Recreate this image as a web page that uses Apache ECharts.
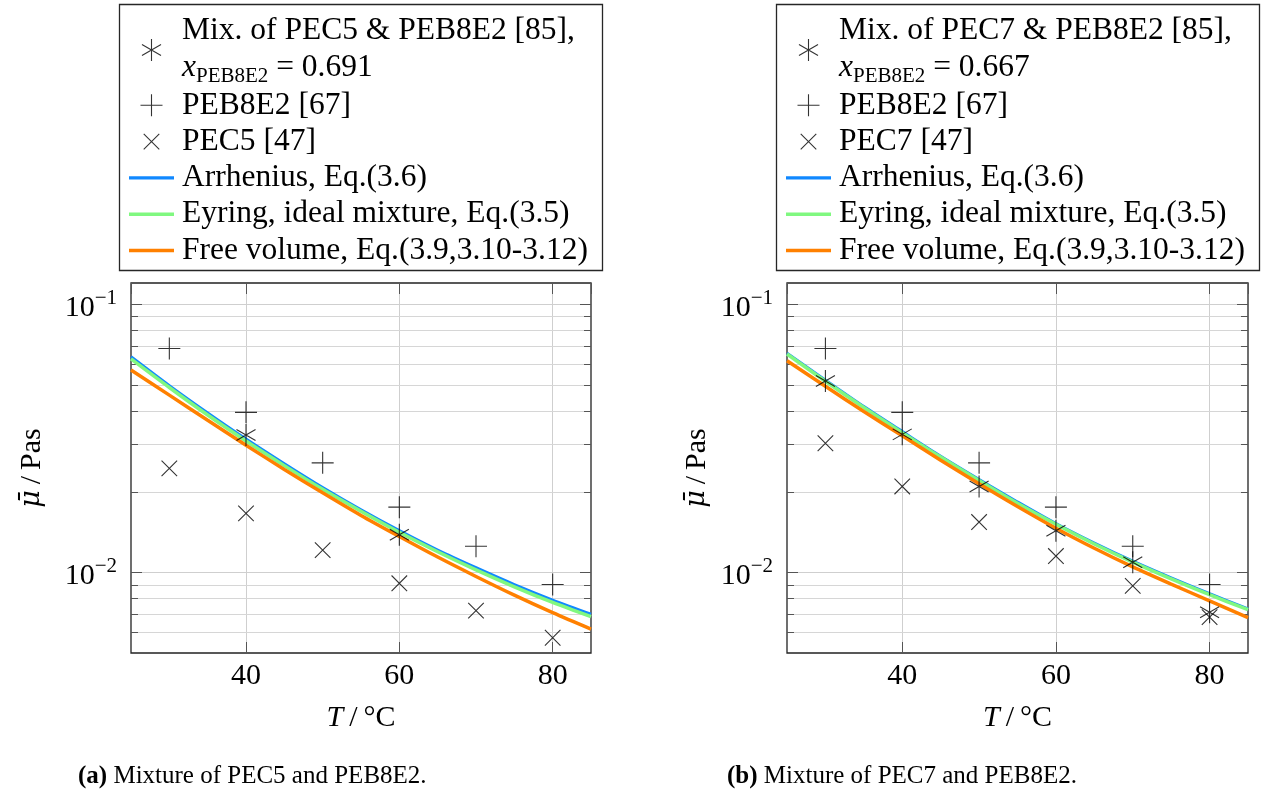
<!DOCTYPE html>
<html>
<head>
<meta charset="utf-8">
<script src="https://cdn.jsdelivr.net/npm/echarts@6/dist/echarts.min.js"></script>
<style>
  html, body { margin: 0; padding: 0; background: #fff; }
  #chart { width: 1261px; height: 800px; }
</style>
</head>
<body>
<div id="chart"></div>
<script>
// ---- measured data (temperature in °C, viscosity in Pa s) ----
const temps = [30, 40, 50, 60, 70, 80];
const peb8e2 = [0.0684, 0.0395, 0.0256, 0.0175, 0.0125, 0.0090];
const pec5 = [0.0244, 0.0166, 0.0121, 0.0091, 0.0072, 0.0057];
const pec7 = [0.0303, 0.0209, 0.0154, 0.0115, 0.0089, 0.0068];
const mixATemps = [40, 60];
const mixA = [0.0325, 0.0138];
const mixB = [0.0517, 0.0327, 0.0209, 0.0143, 0.0109, 0.0071];

// ---- model curves ----
const curveT = [25, 30, 35, 40, 45, 50, 55, 60, 65, 70, 75, 80, 85];
const arrhA = [0.0637, 0.0497, 0.0393, 0.0314, 0.0254, 0.0207, 0.0171, 0.0143, 0.0121, 0.0104, 0.0090, 0.00788, 0.00698];
const eyrA  = [0.0625, 0.0489, 0.0386, 0.0309, 0.0250, 0.0204, 0.0169, 0.0141, 0.01193, 0.01021, 0.00883, 0.00772, 0.00683];
const fvA   = [0.0568, 0.0458, 0.0369, 0.0298, 0.0242, 0.0198, 0.0163, 0.0136, 0.0114, 0.00965, 0.00822, 0.00707, 0.00614];
const arrhB = [0.0657, 0.0521, 0.0415, 0.0335, 0.0271, 0.0222, 0.0183, 0.0152, 0.01285, 0.0110, 0.00953, 0.00832, 0.00731];
const eyrB  = [0.0652, 0.0516, 0.0412, 0.0332, 0.0269, 0.0220, 0.0181, 0.0151, 0.01275, 0.01091, 0.00945, 0.00825, 0.00725];
const fvB   = [0.0615, 0.0494, 0.0398, 0.0323, 0.0262, 0.0214, 0.0176, 0.0146, 0.01229, 0.01047, 0.00903, 0.00783, 0.00677];

// ---- axes ----
const xRange = [25, 85];
const yRange = [0.005, 0.12];
const xTickLabels = [40, 60, 80];
const minorYValues = [0.006, 0.007, 0.008, 0.009, 0.02, 0.03, 0.04, 0.05, 0.06, 0.07, 0.08, 0.09];

// ---- legend names ----
const NAME_MIX_A = 'Mix. of PEC5 & PEB8E2 [85]';
const NAME_MIX_B = 'Mix. of PEC7 & PEB8E2 [85]';
const NAME_PEB = 'PEB8E2 [67]';
const NAME_PEC5 = 'PEC5 [47]';
const NAME_PEC7 = 'PEC7 [47]';
const NAME_ARR = 'Arrhenius, Eq.(3.6)';
const NAME_EYR = 'Eyring, ideal mixture, Eq.(3.5)';
const NAME_FV = 'Free volume, Eq.(3.9,3.10-3.12)';
const mixFraction = { [NAME_MIX_A]: '0.691', [NAME_MIX_B]: '0.667' };

const FONT = '"Liberation Serif", "DejaVu Serif", serif';
const BLUE = '#1088ff', GREEN = '#80f880', ORANGE = '#ff8000';

// stroked marker shapes, all in a common [-1,1] frame
const SYM_PLUS = 'path://M-1,-1M1,1M0,-1L0,1M-1,0L1,0';
const SYM_CROSS = 'path://M-1,-1M1,1M-0.7071,-0.7071L0.7071,0.7071M-0.7071,0.7071L0.7071,-0.7071';
const SYM_STAR = 'path://M-1,-1M1,1M0,-1L0,1M-0.866,-0.5L0.866,0.5M-0.866,0.5L0.866,-0.5';
// legend swatch for the model curves
const SYM_BAR = 'path://M0,0L45,0L45,3.4L0,3.4Z';

const pairs = (xs, ys) => xs.map((x, i) => [x, ys[i]]);

function yLabel(v) {
  const e = Math.log10(v);
  const r = Math.round(e);
  if (Math.abs(e - r) > 1e-6) return '';
  return '{b|10}{e|\u2212' + (-r) + '}';
}
function xLabel(v) {
  return xTickLabels.indexOf(v) >= 0 ? String(v) : '';
}

function xAxes(gi) {
  return [{
    type: 'value', gridIndex: gi, min: xRange[0], max: xRange[1], splitNumber: 3, position: 'bottom',
    axisLine: { show: false },
    axisTick: { show: true, inside: true, length: 11, lineStyle: { color: '#555', width: 1 } },
    splitLine: { show: true, showMinLine: false, showMaxLine: false, lineStyle: { color: '#cfcfcf', width: 1 } },
    axisLabel: { show: true, formatter: xLabel, showMinLabel: false, showMaxLabel: false, margin: 8,
      color: '#000', fontFamily: FONT, fontSize: 30 },
    name: '{i|T}{t|\u2009/\u2009°C}', nameLocation: 'middle', nameGap: 47,
    nameTextStyle: { rich: {
      i: { fontFamily: FONT, fontSize: 30, fontStyle: 'italic', color: '#000', lineHeight: 36 },
      t: { fontFamily: FONT, fontSize: 30, color: '#000', lineHeight: 36 } } }
  }, {
    type: 'value', gridIndex: gi, min: xRange[0], max: xRange[1], splitNumber: 3, position: 'top',
    axisLine: { show: false },
    axisTick: { show: true, inside: true, length: 11, lineStyle: { color: '#555', width: 1 } },
    splitLine: { show: false }, axisLabel: { show: false }
  }];
}

function yAxes(gi, nameGap) {
  return [{
    type: 'log', logBase: 10, gridIndex: gi, min: yRange[0], max: yRange[1], position: 'left',
    axisLine: { show: false },
    axisTick: { show: true, inside: true, length: 11, lineStyle: { color: '#555', width: 1 } },
    splitLine: { show: true, showMinLine: false, showMaxLine: false, lineStyle: { color: '#cfcfcf', width: 1 } },
    minorTick: { show: false },
    axisLabel: { show: true, formatter: yLabel, showMinLabel: false, showMaxLabel: false, margin: 14,
      padding: [7, 0, 0, 0],
      rich: {
        b: { fontFamily: FONT, fontSize: 30, color: '#000', lineHeight: 40 },
        e: { fontFamily: FONT, fontSize: 21, color: '#000', lineHeight: 21, verticalAlign: 'top' }
      } },
    name: '{m|\u03bc\u0304}{t|\u2009/\u2009Pas}', nameLocation: 'middle', nameGap: nameGap,
    nameTextStyle: { rich: {
      m: { fontFamily: '"DejaVu Serif", serif', fontSize: 27, fontStyle: 'italic', color: '#000', lineHeight: 36 },
      t: { fontFamily: FONT, fontSize: 30, color: '#000', lineHeight: 36 } } }
  }, {
    type: 'log', logBase: 10, gridIndex: gi, min: yRange[0], max: yRange[1], position: 'right',
    axisLine: { show: false },
    axisTick: { show: true, inside: true, length: 11, lineStyle: { color: '#555', width: 1 } },
    splitLine: { show: false }, axisLabel: { show: false }
  }];
}

// minor log grid lines with short ticks on both frame sides
function minorGrid(gi) {
  return {
    type: 'custom', xAxisIndex: gi * 2, yAxisIndex: gi * 2, silent: true, z: 1,
    data: minorYValues.map(v => [v]), encode: { y: 0 },
    renderItem: function (params, api) {
      const cs = params.coordSys;
      const y = Math.round(api.coord([xRange[0], api.value(0)])[1]) + 0.5;
      return { type: 'group', children: [
        { type: 'line', shape: { x1: cs.x, y1: y, x2: cs.x + cs.width, y2: y }, style: { stroke: '#d6d6d6', lineWidth: 1.2 } },
        { type: 'line', shape: { x1: cs.x, y1: y, x2: cs.x + 7, y2: y }, style: { stroke: '#555', lineWidth: 1 } },
        { type: 'line', shape: { x1: cs.x + cs.width - 7, y1: y, x2: cs.x + cs.width, y2: y }, style: { stroke: '#555', lineWidth: 1 } }
      ] };
    }
  };
}

function curve(gi, name, ys, color, width) {
  return {
    type: 'line', name: name, xAxisIndex: gi * 2, yAxisIndex: gi * 2,
    data: pairs(curveT, ys), smooth: 0.3, symbol: 'none', showSymbol: false,
    lineStyle: { color: color, width: width }, itemStyle: { color: color }, z: 3
  };
}

function marks(gi, name, xs, ys, sym) {
  return {
    type: 'scatter', name: name, xAxisIndex: gi * 2, yAxisIndex: gi * 2,
    data: pairs(xs, ys), symbol: sym, symbolSize: 22, z: 4,
    itemStyle: { color: 'rgba(0,0,0,0)', borderColor: '#000', borderWidth: 1.1 }
  };
}

const LF = 31.5;
const legendRich = {
  t: { fontFamily: FONT, fontSize: LF, color: '#000', lineHeight: 36, padding: [2, 0, 2, 0] },
  u: { fontFamily: FONT, fontSize: LF, color: '#000', lineHeight: 38 },
  ui: { fontFamily: FONT, fontSize: LF, color: '#000', lineHeight: 38, fontStyle: 'italic' },
  s: { fontFamily: FONT, fontSize: 21, color: '#000', lineHeight: 24, verticalAlign: 'bottom' }
};
function legendText(name) {
  if (mixFraction[name]) {
    return '{t|' + name + ',}\n{ui|x}{s|PEB8E2}{u| = ' + mixFraction[name] + '}';
  }
  return '{t|' + name + '}';
}
function legend(left, names) {
  return {
    left: left, top: 13, orient: 'vertical', padding: 0, itemGap: 0.3,
    itemWidth: 45, itemHeight: 22, selectedMode: false, symbolKeepAspect: true,
    formatter: legendText,
    textStyle: { padding: [0, 0, 0, 3], rich: legendRich },
    data: names.map((n, i) => i < 3
      ? { name: n, itemStyle: { borderWidth: 1.1 } }
      : { name: n, icon: SYM_BAR, itemStyle: { borderWidth: 0 } })
  };
}

const captionRich = {
  b: { fontFamily: FONT, fontSize: 25, fontWeight: 'bold', color: '#000' },
  t: { fontFamily: FONT, fontSize: 25, fontWeight: 'normal', color: '#000' }
};

const option = {
  animation: false,
  backgroundColor: '#fff',
  grid: [
    { left: 131, top: 283, width: 460, height: 370, show: true, borderColor: '#222', borderWidth: 1.3, backgroundColor: 'transparent' },
    { left: 787, top: 283, width: 461, height: 370, show: true, borderColor: '#222', borderWidth: 1.3, backgroundColor: 'transparent' }
  ],
  xAxis: xAxes(0).concat(xAxes(1)),
  yAxis: yAxes(0, 81).concat(yAxes(1, 72)),
  graphic: [
    { type: 'rect', shape: { x: 119.5, y: 4.5, width: 483, height: 266 }, style: { fill: '#fff', stroke: '#262626', lineWidth: 1.3 }, z: 0 },
    { type: 'rect', shape: { x: 776.5, y: 4.5, width: 483, height: 266 }, style: { fill: '#fff', stroke: '#262626', lineWidth: 1.3 }, z: 0 }
  ],
  legend: [
    legend(129, [NAME_MIX_A, NAME_PEB, NAME_PEC5, NAME_ARR, NAME_EYR, NAME_FV]),
    legend(786, [NAME_MIX_B, NAME_PEB, NAME_PEC7, NAME_ARR, NAME_EYR, NAME_FV])
  ],
  title: [
    { text: '{b|(a)}{t| Mixture of PEC5 and PEB8E2.}', left: 78, top: 764, padding: 0,
      textStyle: { fontWeight: 'normal', rich: captionRich } },
    { text: '{b|(b)}{t| Mixture of PEC7 and PEB8E2.}', left: 727, top: 764, padding: 0,
      textStyle: { fontWeight: 'normal', rich: captionRich } }
  ],
  series: [
    minorGrid(0),
    curve(0, NAME_ARR, arrhA, BLUE, 3),
    curve(0, NAME_EYR, eyrA, GREEN, 3.5),
    curve(0, NAME_FV, fvA, ORANGE, 3.5),
    marks(0, NAME_MIX_A, mixATemps, mixA, SYM_STAR),
    marks(0, NAME_PEB, temps, peb8e2, SYM_PLUS),
    marks(0, NAME_PEC5, temps, pec5, SYM_CROSS),
    minorGrid(1),
    curve(1, NAME_ARR, arrhB, BLUE, 3),
    curve(1, NAME_EYR, eyrB, GREEN, 3.5),
    curve(1, NAME_FV, fvB, ORANGE, 3.5),
    marks(1, NAME_MIX_B, temps, mixB, SYM_STAR),
    marks(1, NAME_PEB, temps, peb8e2, SYM_PLUS),
    marks(1, NAME_PEC7, temps, pec7, SYM_CROSS)
  ]
};

const chart = echarts.init(document.getElementById('chart'), null, { renderer: 'canvas' });
chart.setOption(option);
</script>
</body>
</html>
